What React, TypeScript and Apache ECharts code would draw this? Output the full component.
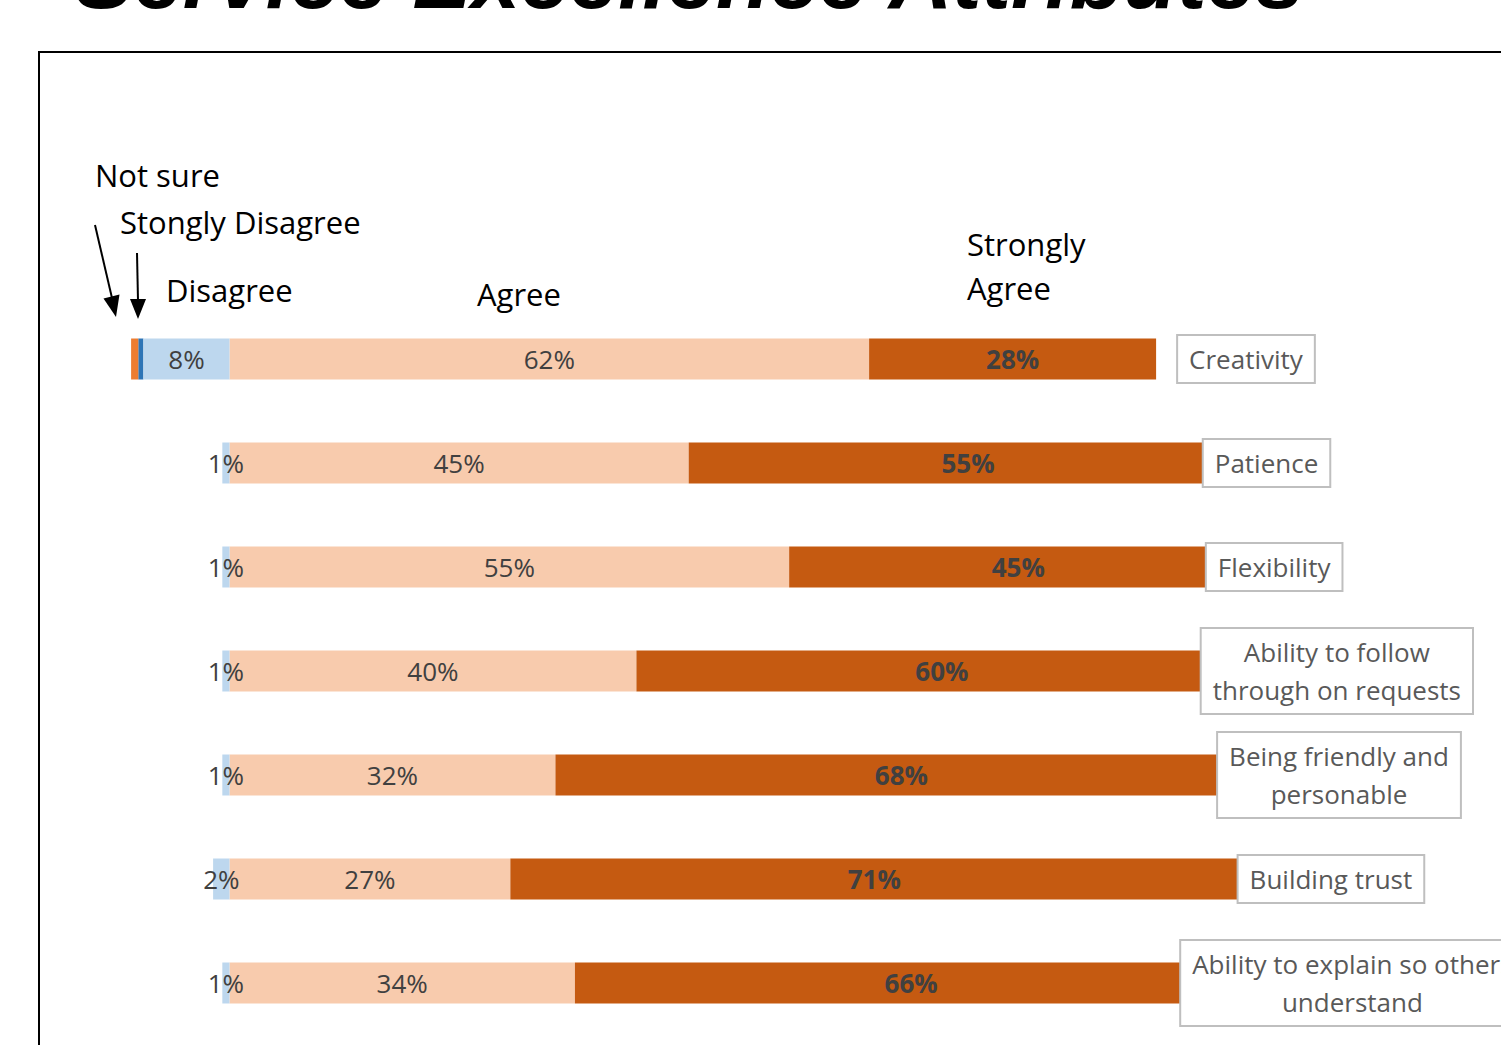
import React, { useEffect, useRef } from "react";
import * as echarts from "echarts";

// Categories (top to bottom)
const categories = [
  "Creativity",
  "Patience",
  "Flexibility",
  "Ability to follow through on requests",
  "Being friendly and personable",
  "Building trust",
  "Ability to explain so others understand",
];
// Wrapped display text for the category boxes
const categoryBoxText = [
  "Creativity",
  "Patience",
  "Flexibility",
  "Ability to follow\nthrough on requests",
  "Being friendly and\npersonable",
  "Building trust",
  "Ability to explain so others\nunderstand",
];

// Shares (%) per response
const notSure = [0.7, 0, 0, 0, 0, 0, 0];
const stronglyDisagree = [0.5, 0, 0, 0, 0, 0, 0];
const disagree = [8.4, 0.7, 0.7, 0.7, 0.7, 1.6, 0.7];
const agree = [62.4, 44.8, 54.6, 39.7, 31.8, 27.4, 33.7];
const stronglyAgree = [28.0, 54.5, 44.7, 59.6, 67.5, 71.0, 65.6];

// Printed percentage labels
const disagreeLabels = ["8%", "1%", "1%", "1%", "1%", "2%", "1%"];
const agreeLabels = ["62%", "45%", "55%", "40%", "32%", "27%", "34%"];
const stronglyAgreeLabels = ["28%", "55%", "45%", "60%", "68%", "71%", "66%"];

// Layout: where each category text box sits along the value axis (annotation placement)
const categoryBoxAnchor = [92.5, 95.0, 95.3, 94.8, 96.4, 98.4, 92.8];

const FONT = "'Open Sans', 'Noto Sans', sans-serif";

export default function App() {
  const ref = useRef<HTMLDivElement>(null);

  useEffect(() => {
    if (!ref.current) return;
    const chart = echarts.init(ref.current, null, { renderer: "svg" });

    const pctLabel = (labels: string[], bold: boolean) => ({
      show: true,
      position: "inside",
      formatter: (p: any) => labels[p.dataIndex],
      fontFamily: FONT,
      fontSize: 26,
      fontWeight: bold ? "bold" : "normal",
      color: "#404040",
    });

    const annot = (text: string, x: number, y: number) => ({
      type: "text",
      x,
      y,
      z: 10,
      style: { text, fontFamily: FONT, fontSize: 31, fill: "#000", verticalAlign: "middle" },
    });

    const option: any = {
      animation: false,
      backgroundColor: "#ffffff",
      grid: { left: 127, top: 307, width: 1127.5, height: 728, containLabel: false },
      xAxis: {
        type: "value",
        min: -10,
        max: 100,
        show: false,
      },
      yAxis: {
        type: "category",
        data: categories,
        inverse: true,
        show: false,
      },
      series: [
        {
          name: "Disagree",
          type: "bar",
          stack: "total",
          barWidth: 41,
          data: disagree.map((v) => -v),
          itemStyle: { color: "#BDD7EE" },
          label: pctLabel(disagreeLabels, false),
          z: 3,
        },
        {
          name: "Stongly Disagree",
          type: "bar",
          stack: "total",
          barWidth: 41,
          data: stronglyDisagree.map((v) => -v),
          itemStyle: { color: "#2E75B6" },
        },
        {
          name: "Not sure",
          type: "bar",
          stack: "total",
          barWidth: 41,
          data: notSure.map((v) => -v),
          itemStyle: { color: "#ED7D31" },
        },
        {
          name: "Agree",
          type: "bar",
          stack: "total",
          barWidth: 41,
          data: agree,
          itemStyle: { color: "#F8CBAD" },
          label: pctLabel(agreeLabels, false),
        },
        {
          name: "Strongly Agree",
          type: "bar",
          stack: "total",
          barWidth: 41,
          data: stronglyAgree,
          itemStyle: { color: "#C55A11" },
          label: pctLabel(stronglyAgreeLabels, true),
        },
        {
          name: "Category",
          type: "scatter",
          silent: true,
          symbolSize: 1,
          itemStyle: { color: "rgba(0,0,0,0)", opacity: 1 },
          data: categories.map((c, i) => ({
            name: categoryBoxText[i],
            value: [categoryBoxAnchor[i], c],
          })),
          label: {
            show: true,
            position: "right",
            distance: 0,
            opacity: 1,
            formatter: (p: any) =>
              String(p.name)
                .split("\n")
                .map((l: string) => "{c|" + l + "}")
                .join("\n"),
            backgroundColor: "#ffffff",
            borderColor: "#BFBFBF",
            borderWidth: 2,
            padding: [4, 11],
            rich: {
              c: {
                align: "center",
                fontFamily: FONT,
                fontSize: 26,
                color: "#595959",
                lineHeight: 38,
              },
            },
          },
          z: 5,
        },
      ],
      graphic: [
        {
          type: "text",
          x: 75,
          y: -23,
          style: {
            text: "Service Excellence Attributes",
            fontFamily: "'Liberation Sans', Arial, sans-serif",
            fontSize: 88,
            fontWeight: "bold",
            fontStyle: "italic",
            fill: "#000000",
            verticalAlign: "middle",
          },
        },
        {
          type: "rect",
          shape: { x: 39, y: 52, width: 1600, height: 1100 },
          style: { fill: "none", stroke: "#000000", lineWidth: 2 },
        },
        annot("Not sure", 95, 175),
        annot("Stongly Disagree", 120, 222),
        annot("Disagree", 166, 290),
        annot("Agree", 477, 294),
        annot("Strongly", 967, 244),
        annot("Agree", 967, 288),
        {
          type: "line",
          shape: { x1: 95, y1: 225, x2: 112, y2: 298 },
          style: { stroke: "#000", lineWidth: 2 },
        },
        {
          type: "polygon",
          shape: { points: [[116, 317], [103.5, 298.5], [119.5, 294.5]] },
          style: { fill: "#000" },
        },
        {
          type: "line",
          shape: { x1: 137, y1: 253, x2: 138, y2: 300 },
          style: { stroke: "#000", lineWidth: 2 },
        },
        {
          type: "polygon",
          shape: { points: [[138, 319], [130, 299], [146, 299]] },
          style: { fill: "#000" },
        },
      ],
    };

    chart.setOption(option);
    return () => chart.dispose();
  }, []);

  return (
    <div
      ref={ref}
      style={{ position: "absolute", left: 0, top: 0, width: 1501, height: 1045 }}
    />
  );
}
